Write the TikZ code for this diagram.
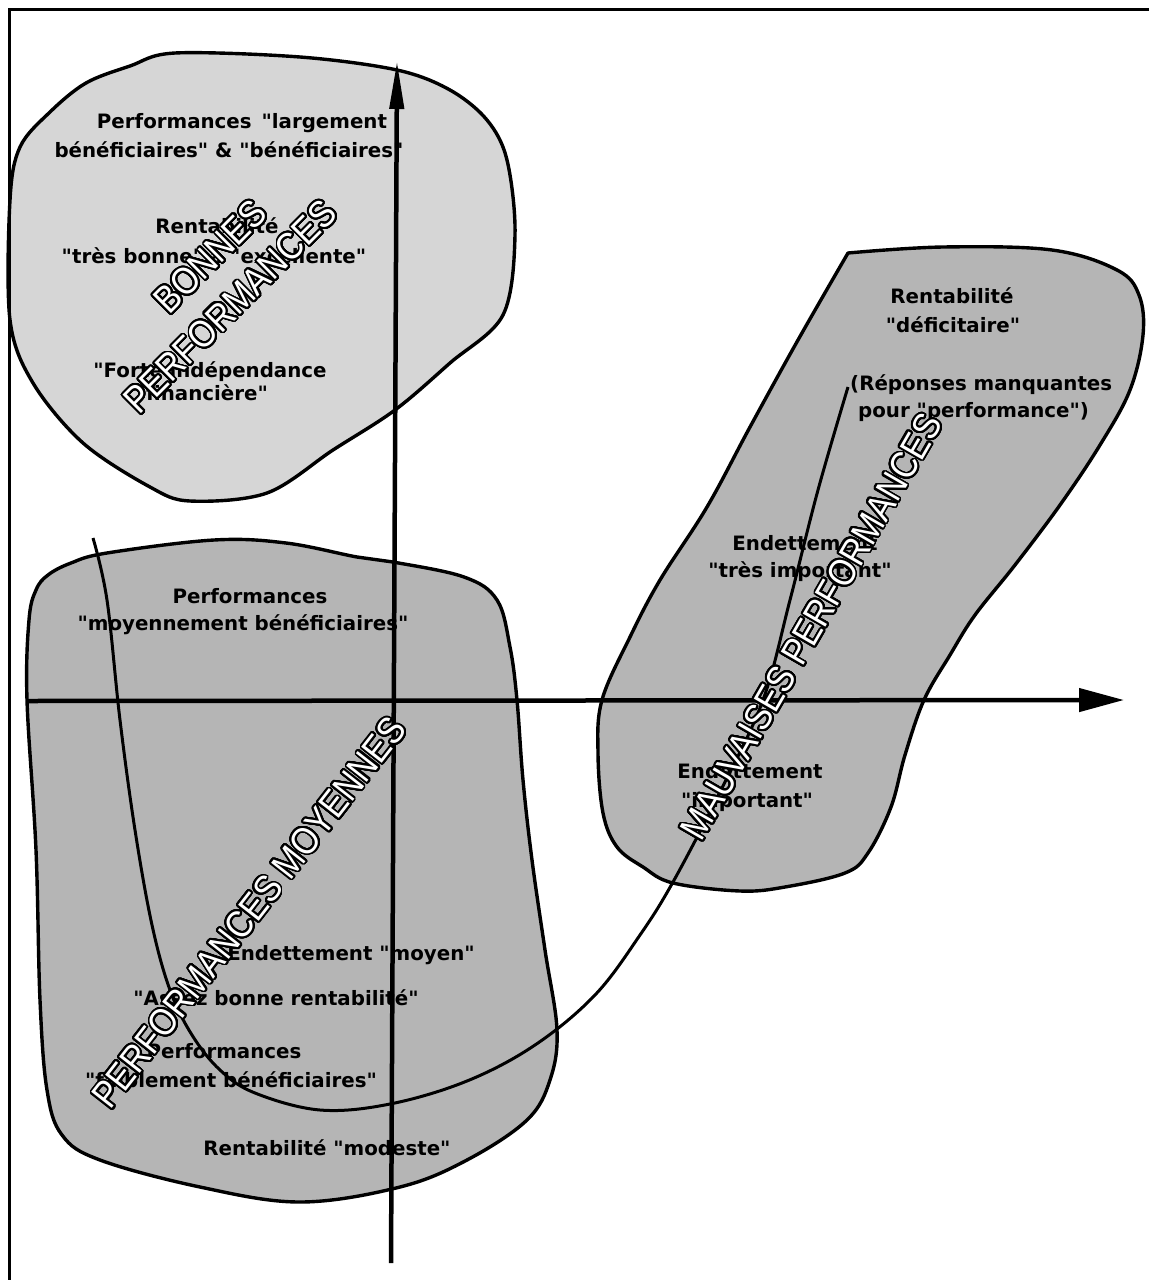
\documentclass[tikz,border=0pt]{standalone}
\usepackage{fontspec}
\setmainfont{DejaVu Sans}[Ligatures=TeXOff]
\newfontfamily\outlfont{Liberation Sans}[Ligatures=TeXOff, FakeStretch=0.88]
\usepackage{contour}
\contourlength{1.8pt}
\contournumber{40}
\usetikzlibrary{arrows.meta}
\definecolor{lightfill}{gray}{0.84}
\definecolor{darkfill}{gray}{0.71}
\begin{document}
\begin{tikzpicture}[x=1pt,y=-1pt,
  blobL/.style={draw=black, line width=3.4pt, fill=lightfill, line join=round},
  blobD/.style={draw=black, line width=3.4pt, fill=darkfill, line join=round},
  axisln/.style={line width=4.5pt},
  curveln/.style={line width=3pt},
  frameln/.style={line width=3.5pt},
  lbl/.style={font=\fontsize{19.8}{22}\selectfont\bfseries, inner sep=0pt, anchor=base},
  lblw/.style={lbl, anchor=base west},
  big/.style={font=\fontsize{38}{42}\selectfont\outlfont, inner sep=0pt, text=white, anchor=center}
]
\useasboundingbox (0,0) rectangle (1149,1280);

% ---------- blobs ----------
\draw[blobL] plot[smooth cycle, tension=0.55] coordinates {
 (10,320) (10,200) (20,147) (50,112) (86,83) (130,66) (175,53)
 (300,57) (397,70) (450,90) (487,120) (507,160) (515,235) (503,315)
 (450,363) (395,410) (333,450) (267,493) (190,501) (150,487) (83,443) (33,383)};

\draw[blobD] plot[smooth cycle, tension=0.6] coordinates {
 (27,700) (29,620) (36,590) (48,575) (71,563) (107,553) (214,540) (286,543)
 (357,557) (393,562) (464,577) (497,600) (510,647) (517,700) (523,780)
 (532,860) (545,950) (557,1030) (550,1080) (527,1120) (467,1160) (400,1187)
 (300,1202) (200,1187) (100,1160) (62,1135) (47,1090) (40,1000) (36,850)};

\draw[blobD] plot[smooth, tension=0.6] coordinates {
 (848,253) (943,247) (1052,250) (1117,270) (1139,295) (1143,335) (1130,390)
 (1100,445) (1060,505) (1015,565) (975,615) (950,655) (924,700) (905,755)
 (891,807) (868,853) (845,873) (785,887) (740,891) (673,883) (643,867)
 (617,847) (603,813) (598,753) (602,700) (630,637) (660,580) (707,507)
 (750,427) (798,340) (848,253)} -- cycle;

% ---------- frame ----------
\coordinate (ftr) at (1149,9.5);
\coordinate (ftl) at (9.5,9.5);
\coordinate (fbl) at (9.5,1280);
\draw[frameln] (ftr) -- (ftl) -- (fbl);

% ---------- curve ----------
\coordinate (cstart) at (93,538);
\coordinate (cend) at (848,387);
\draw[curveln] plot[smooth, tension=0.6] coordinates {
 (cstart) (107,600) (120,720) (135,830) (152,925) (170,990) (192,1035)
 (220,1070) (255,1093) (320,1110) (390,1104) (467,1081) (535,1045)
 (595,995) (640,935) (673,882) (720,792) (763,700) (790,600)
 (818,490) (cend)};

% ---------- axes ----------
\coordinate (vbot) at (391,1263);
\coordinate (vtop) at (397,61);
\coordinate (hleft) at (27,701);
\coordinate (hright) at (1124,700);
\draw[axisln, -{Triangle[length=48pt,width=14pt]}] (vbot) -- (vtop);
\draw[axisln, -{Triangle[length=45pt,width=23pt]}] (hleft) -- (hright);

% ---------- texts ----------
\node[lbl] (t1) at (242,128) {Performances\hspace{0.5em}"largement};
\node[lbl] (t2) at (229,157) {bénéficiaires" \& "bénéficiaires"};
\node[lbl] (t3) at (217,233) {Rentabilité};
\node[lbl] (t4) at (214,263) {"très bonne" à "excellente"};
\node[lbl] (t5) at (210,377) {"Forte indépendance};
\node[lbl] (t6) at (207,400) {financière"};

\node[lbl] (t7) at (250,603) {Performances};
\node[lbl] (t8) at (243,630) {"moyennement bénéficiaires"};
\node[lbl] (t9) at (351,960) {Endettement "moyen"};
\node[lbl] (t10) at (276,1005) {"Assez bonne rentabilité"};
\node[lbl] (t11) at (224,1058) {Performances};
\node[lbl] (t12) at (231,1087) {"faiblement bénéficiaires"};
\node[lbl] (t13) at (327,1155) {Rentabilité "modeste"};

\node[lbl] (t14) at (952,303) {Rentabilité};
\node[lbl] (t15) at (953,332) {"déficitaire"};
\node[lblw] (t16) at (850,390) {(Réponses manquantes};
\node[lblw] (t17) at (858,417) {pour "performance")};
\node[lbl] (t18) at (805,550) {Endettement};
\node[lbl] (t19) at (800,577) {"très important"};
\node[lbl] (t20) at (750,778) {Endettement};
\node[lbl] (t21) at (747,807) {"important"};

% ---------- outlined diagonal labels ----------
\node[big, rotate=45] (bonnes) at (211,257) {\contour{black}{BONNES}};
\node[big, rotate=45] (bperf) at (231,307) {\contour{black}{PERFORMANCES}};
\node[big, rotate=52] (moy) at (250,913) {\contour{black}{PERFORMANCES MOYENNES}};
\node[big, rotate=60] (mauv) at (812,627) {\contour{black}{MAUVAISES PERFORMANCES}};
\end{tikzpicture}
\end{document}
